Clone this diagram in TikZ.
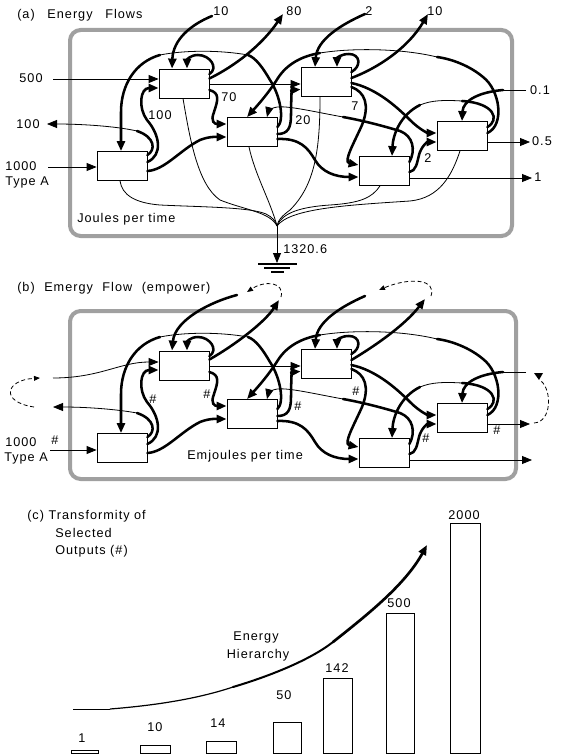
\documentclass[tikz,border=0pt]{standalone}
\usepackage{fontspec}
\setmainfont{Liberation Sans}[LetterSpace=8]
\usetikzlibrary{arrows.meta,calc}
\definecolor{framegray}{RGB}{160,160,160}
\tikzset{
  flowthin/.style={line width=0.6pt},
  flowthick/.style={line width=1.9pt, line cap=round},
  flowarrow/.style={-{Triangle[length=7.5pt,width=6pt]}},
  smallarrow/.style={-{Triangle[length=4.5pt,width=3.6pt]}},
  dashloop/.style={line width=0.6pt, dash pattern=on 3pt off 2pt},
  unitbox/.style={draw, line width=0.6pt, minimum width=37.5pt, minimum height=21.75pt, inner sep=0pt},
  lbl/.style={inner sep=0pt, font=\fontsize{9.5}{11}\selectfont},
  framebox/.style={draw=framegray, line width=3pt, rounded corners=8pt},
  bar/.style={draw, line width=0.6pt},
}
\newcommand\gapa{\hspace{1em}}
\newcommand\gapb{\hspace{0.75em}}
% internal network: #1 prefix, #2 vertical offset (px)
\newcommand\netw[2]{%
  \def\dy{#2}%
  \node[unitbox] (#11) at (122,\dy+166) {};
  \node[unitbox] (#12) at (184,\dy+83.5) {};
  \node[unitbox] (#13) at (252,\dy+132) {};
  \node[unitbox] (#14) at (326,\dy+82) {};
  \node[unitbox] (#15) at (384,\dy+171) {};
  \node[unitbox] (#16) at (462,\dy+136) {};
  % B2 -> B4 thin
  \draw[flowthin,flowarrow] ($(#12.east)+(0,0.5)$) -- ($(#14.west)+(0,2)$);
  % B1 -> B2
  \draw[flowthick,flowarrow] ($(#11.east)+(0,-4)$) .. controls (163,\dy+155) and (160,\dy+135) .. (147,\dy+120) .. controls (138,\dy+108) and (140,\dy+88) .. ($(#12.west)+(0,4.5)$);
  % B1 output (thick part)
  \draw[flowthick] ($(#11.east)+(0,-11)$) .. controls (156,\dy+150) and (155,\dy+137) .. (137,\dy+131) coordinate (#1out);
  % B1 -> B3
  \draw[flowthick,flowarrow] ($(#11.east)+(0,5)$) .. controls (165,\dy+170) and (180,\dy+150) .. (200,\dy+140) .. controls (210,\dy+136) and (218,\dy+137) .. ($(#13.west)+(0,5)$);
  % B2 -> B3 (70)
  \draw[flowthick,flowarrow] ($(#12.east)+(0,6.5)$) .. controls (220,\dy+93) and (218,\dy+100) .. (214,\dy+112) .. controls (210,\dy+122) and (215,\dy+124) .. ($(#13.west)+(0,-8)$);
  % B2 self loop
  \draw[flowthick,flowarrow] ($(#12.east)+(0,-9.5)$) .. controls (219,\dy+68) and (210,\dy+55) .. (198,\dy+55) .. controls (190,\dy+55) and (187,\dy+60) .. ($(#12.north)+(3,0)$);
  % F1: B3 -> B1
  \draw[flowthick] ($(#13.east)+(0,-5)$) .. controls (285,\dy+120) and (280,\dy+95) .. (270,\dy+80) .. controls (263,\dy+68) and (256,\dy+58) .. (248,\dy+55);
  \draw[flowthin] (248,\dy+55) .. controls (220,\dy+50) and (185,\dy+50) .. (160,\dy+55);
  \draw[flowthick,flowarrow] (160,\dy+55) .. controls (135,\dy+62) and (121,\dy+85) .. (121,\dy+112) -- ($(#11.north)+(-1,0)$);
  % F2: B6 -> B3
  \draw[flowthick] ($(#16.east)+(0,-3)$) .. controls (505,\dy+125) and (500,\dy+90) .. (483,\dy+77) .. controls (470,\dy+66) and (452,\dy+59) .. (437,\dy+57);
  \draw[flowthin] (437,\dy+57) .. controls (400,\dy+48) and (350,\dy+48) .. (320,\dy+53);
  \draw[flowthick,flowarrow] (320,\dy+53) .. controls (302,\dy+56) and (287,\dy+64) .. (278,\dy+78) .. controls (268,\dy+94) and (256,\dy+107) .. ($(#13.north)+(-5,0)$);
  % B4 self loop
  \draw[flowthick,flowarrow] ($(#14.east)+(0,-10)$) .. controls (362,\dy+66) and (360,\dy+54) .. (349,\dy+54) .. controls (341,\dy+54) and (337,\dy+58) .. ($(#14.north)+(11,0)$);
  % input "2" to B4
  \draw[flowthick,flowarrow] (365,\dy+14) .. controls (340,\dy+25) and (317,\dy+40) .. ($(#14.north)+(-11,0)$);
  % B3 -> B4 (20)
  \draw[flowthick,flowarrow] ($(#13.east)+(0,2)$) .. controls (288,\dy+134) and (291,\dy+128) .. (291,\dy+115) .. controls (291,\dy+100) and (292,\dy+90) .. ($(#14.west)+(0,7.5)$);
  % B3 -> B5
  \draw[flowthick,flowarrow] ($(#13.east)+(0,7)$) .. controls (300,\dy+138) and (308,\dy+148) .. (315,\dy+160) .. controls (322,\dy+172) and (335,\dy+177) .. ($(#15.west)+(0,6)$);
  % B4 -> B5 (7)
  \draw[flowthick,flowarrow] ($(#14.east)+(0,5)$) .. controls (365,\dy+92) and (370,\dy+105) .. (362,\dy+125) .. controls (354,\dy+143) and (343,\dy+162) .. ($(#15.west)+(0,-6)$);
  % B4 -> B6
  \draw[flowthick,flowarrow] ($(#14.east)+(0,1)$) .. controls (375,\dy+88) and (395,\dy+105) .. (410,\dy+120) .. controls (420,\dy+130) and (428,\dy+133) .. ($(#16.west)+(0,-3)$);
  % F3: B5 -> B3
  \draw[flowthick] ($(#15.east)+(0,-9)$) .. controls (416,\dy+150) and (413,\dy+136) .. (400,\dy+131) .. controls (380,\dy+125) and (360,\dy+120) .. (343,\dy+117);
  \draw[flowthin,flowarrow] (343,\dy+117) .. controls (310,\dy+111) and (282,\dy+104) .. (273,\dy+108) .. controls (269,\dy+110) and (268,\dy+113) .. ($(#13.north)+(15,0)$);
  % F4: B6 -> B5
  \draw[flowthick] ($(#16.east)+(0,-9)$) .. controls (500,\dy+120) and (495,\dy+103) .. (462,\dy+101);
  \draw[flowthin] (462,\dy+101) .. controls (445,\dy+100) and (432,\dy+100) .. (420,\dy+105);
  \draw[flowthick,flowarrow] (420,\dy+105) .. controls (400,\dy+115) and (393,\dy+135) .. ($(#15.north)+(8,0)$);
  % input 0.1 to B6
  \draw[flowthin] (526,\dy+90) -- (503,\dy+90);
  \draw[flowthick,flowarrow] (503,\dy+90) .. controls (480,\dy+92) and (463,\dy+100) .. (#16.north);
  % B5 -> B6 (2)
  \draw[flowthick,flowarrow] ($(#15.east)+(0,1)$) .. controls (416,\dy+171) and (417,\dy+163) .. (419,\dy+155) .. controls (421,\dy+147) and (427,\dy+142) .. ($(#16.west)+(0,6)$);
  % outputs
  \draw[flowthin,flowarrow] ($(#15.east)+(0,7)$) -- (532,\dy+178) coordinate (#1o1);
  \draw[flowthin,flowarrow] ($(#16.east)+(0,6)$) -- (530,\dy+142) coordinate (#1o2);
}
\begin{document}
\begin{tikzpicture}[x=0.75pt,y=-0.75pt]
\useasboundingbox (0,0) rectangle (562,756);

% ================= (a) =================
\draw[framebox] (70,30) rectangle (512,236);
\node[lbl,anchor=west] (ta) at (17,15) {(a)\gapa Energy\gapa Flows};
\netw{a}{0}
% external inputs/outputs
\node[lbl] (a500) at (31,78) {500};
\draw[flowthin,flowarrow] (53,79) -- ($(a2.west)+(0,-4.5)$);
\node[lbl,anchor=west] (a1000) at (5,166) {1000};
\node[lbl,anchor=west] (atype) at (5,182) {Type A};
\draw[flowthin,flowarrow] (48,167) -- ($(a1.west)+(0,1)$);
\node[lbl] (a100o) at (28,124) {100};
\draw[flowthin,flowarrow] (aout) .. controls (115,126) and (80,124) .. (47,124);
\node[lbl] (a10i) at (221,11) {10};
\draw[flowthick,flowarrow] (212,16) .. controls (190,25) and (173,40) .. ($(a2.north)+(-12,0)$);
\node[lbl] (a80) at (294,11) {80};
\draw[flowthick,flowarrow] ($(a2.east)+(0,-5)$) .. controls (235,66) and (262,45) .. (283,14);
\node[lbl] (a2i) at (369,11) {2};
\node[lbl] (a10o) at (435,11) {10};
\draw[flowthick,flowarrow] ($(a4.east)+(0,-4)$) .. controls (378,68) and (408,48) .. (428,14);
\node[lbl] (a01) at (540,90) {0.1};
\node[lbl] (a05) at (542,141) {0.5};
\node[lbl] (a1o) at (538,177) {1};
% internal labels
\node[lbl] (l100) at (160,115) {100};
\node[lbl] (l70) at (229,97) {70};
\node[lbl] (l20) at (303,120) {20};
\node[lbl] (l7) at (355,106) {7};
\node[lbl] (l2) at (428,158) {2};
\node[lbl,anchor=west] (ljp) at (77,219) {Joules per time};
% heat sink
\coordinate (sink) at (277,226);
\draw[flowthin] ($(a1.south)+(-2,0)$) .. controls (122,195) and (135,203) .. (160,205) .. controls (200,207) and (250,207) .. (266,214) .. controls (272,217) and (276,221) .. (sink);
\draw[flowthin] ($(a2.south)+(-1,0)$) .. controls (190,140) and (198,185) .. (220,200) .. controls (245,210) and (270,212) .. (sink);
\draw[flowthin] ($(a3.south)+(-3,0)$) .. controls (255,175) and (270,200) .. (sink);
\draw[flowthin] ($(a4.south)+(-6,0)$) .. controls (320,150) and (315,185) .. (290,210) .. controls (282,216) and (278,220) .. (sink);
\draw[flowthin] ($(a5.south)+(-4,0)$) .. controls (372,198) and (360,203) .. (330,205) .. controls (300,207) and (282,213) .. (sink);
\draw[flowthin] ($(a6.south)+(-2,0)$) .. controls (452,175) and (440,198) .. (410,201) .. controls (350,205) and (290,208) .. (sink);
\coordinate (gnd) at (277,263);
\draw[flowthin,flowarrow] (sink) -- (gnd);
\draw[line width=1.1pt] (258,264) -- (297,264);
\draw[line width=1.1pt] (264,268) -- (290,268);
\draw[line width=1.1pt] (271,272) -- (284,272);
\node[lbl,anchor=west] (l1320) at (283,249) {1320.6};

% ================= (b) =================
\draw[framebox] (70,311) rectangle (516,479);
\node[lbl,anchor=west] (tb) at (17,288) {(b)\gapb Emergy\gapb Flow\gapb (empower)};
\netw{b}{282}
\node[lbl,anchor=west] (b1000) at (5,442) {1000};
\node[lbl,anchor=west] (btype) at (4,458) {Type A};
\node[lbl] (bh0) at (55,440) {\#};
\draw[flowthin,flowarrow] (50,450) -- ($(b1.west)+(0,2)$);
% left recycle loop
\coordinate (bl1) at (53,407);
\coordinate (bl2) at (53,378);
\draw[flowthin,flowarrow] (bout) .. controls (115,409) and (85,407) .. (bl1);
\draw[dashloop,smallarrow] (34,407) .. controls (0,402) and (5,380) .. (40,378);
\draw[flowthin,flowarrow] (bl2) .. controls (100,378) and (120,362) .. ($(b2.west)+(0,-3.5)$);
% top-left loop
\draw[flowthick,flowarrow] (237,295) .. controls (210,302) and (175,320) .. ($(b2.north)+(-12,0)$);
\draw[flowthick,flowarrow] ($(b2.east)+(0,-6)$) .. controls (235,345) and (265,322) .. (279,300);
\draw[dashloop,smallarrow] (281,297) .. controls (285,282) and (265,280) .. (247,292);
% top-right loop
\draw[flowthick,flowarrow] ($(b4.east)+(0,-4)$) .. controls (375,346) and (405,325) .. (425,299);
\draw[dashloop,smallarrow] (431,296) .. controls (437,279) and (410,277) .. (379,290);
% right loop
\draw[dashloop] (534,423) .. controls (552,422) and (552,390) .. (541,381);
\fill (534,373) -- (543,373) -- (539,380) -- cycle;
% labels
\node[lbl] (bh1) at (153,399) {\#};
\node[lbl] (bh2) at (207,394) {\#};
\node[lbl] (bh3) at (298,406) {\#};
\node[lbl] (bh4) at (356,391) {\#};
\node[lbl] (bh5) at (426,438) {\#};
\node[lbl] (bh6) at (497,430) {\#};
\node[lbl,anchor=west] (lej) at (187,456) {Emjoules per time};

% ================= (c) =================
\node[lbl,anchor=west] (tc1) at (27,516) {(c) Transformity of};
\node[lbl,anchor=west] (tc2) at (55,533) {Selected};
\node[lbl,anchor=west] (tc3) at (55,551) {Outputs (\#)};
\draw[bar] (71,750) rectangle (98,753);
\draw[bar] (140,745) rectangle (170,753);
\draw[bar] (206,741) rectangle (236,753);
\draw[bar] (273,722) rectangle (301,753);
\draw[bar] (323,678) rectangle (352,753);
\draw[bar] (386,613) rectangle (414,753);
\draw[bar] (450,523) rectangle (480,753);
\node[lbl] (v1) at (82,738) {1};
\node[lbl] (v10) at (155,727) {10};
\node[lbl] (v14) at (218,723) {14};
\node[lbl] (v50) at (284,695) {50};
\node[lbl] (v142) at (337,668) {142};
\node[lbl] (v500) at (399,603) {500};
\node[lbl] (v2000) at (464,515) {2000};
\node[lbl] (eh1) at (256,637) {Energy};
\node[lbl] (eh2) at (258,655) {Hierarchy};
\coordinate (h0) at (73,709);
\coordinate (h1) at (110,709);
\coordinate (h2) at (233,687);
\coordinate (h3) at (333,642);
\coordinate (h4) at (427,545);
\draw[line width=0.6pt] (h0) -- (h1);
\draw[line width=0.9pt] (h1) .. controls (160,705) and (200,698) .. (h2);
\draw[line width=1.5pt, line cap=round] (h2) .. controls (270,676) and (310,660) .. (h3);
\draw[line width=2pt, line cap=round, flowarrow] (h3) .. controls (367,615) and (405,585) .. (h4);
\end{tikzpicture}
\end{document}
